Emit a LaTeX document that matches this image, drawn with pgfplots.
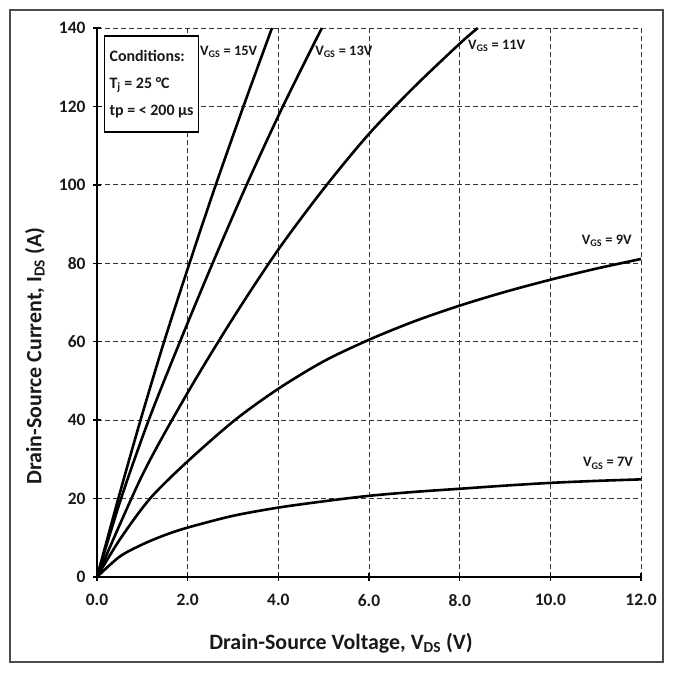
\documentclass[border=0pt]{standalone}
\usepackage{fontspec}
\setmainfont{Carlito}
\usepackage{pgfplots}
\pgfplotsset{compat=1.18}
\begin{document}
\begin{tikzpicture}
\useasboundingbox (0,0) rectangle (675bp,675bp);
\draw[black!70, line width=1.6bp] (10bp,13bp) rectangle (663bp,665bp);
\node[font=\bfseries\fontsize{22}{22}\selectfont, text=black!90] at (341bp,32bp) {Drain-Source Voltage, V\textsubscript{DS} (V)};
\node[font=\bfseries\fontsize{22}{22}\selectfont, text=black!90, rotate=90] at (35bp,319bp) {Drain-Source Current, I\textsubscript{DS} (A)};
\begin{axis}[
  at={(97bp,98bp)}, anchor=south west,
  scale only axis, width=544bp, height=549bp,
  xmin=0, xmax=12, ymin=0, ymax=140,
  xtick={0,2,...,12}, ytick={0,20,...,140},
  axis x line=bottom, axis y line=left,
  axis line style={-, line width=2.6bp},
  tick align=center, major tick length=8bp,
  tick style={black, line width=1.5bp},
  grid=major,
  major grid style={black!80, line width=0.9bp, dash pattern=on 5bp off 3bp},
  /pgf/number format/assume math mode=true,
  xticklabel={\pgfmathprintnumber[fixed,fixed zerofill,precision=1]{\tick}},
  ticklabel style={font=\bfseries\fontsize{17.5}{17.5}\selectfont, text=black!90},
  xticklabel style={yshift=-10bp},
  yticklabel style={xshift=-4bp},
  clip=true,
]
\addplot[black, line width=2.6bp, smooth] coordinates {(0,0) (0.47,20) (0.96,40) (1.48,60) (2.04,80) (2.62,100) (3.23,120) (3.86,140)};
\addplot[black, line width=2.6bp, smooth] coordinates {(0,0) (0.53,20) (1.14,40) (1.83,60) (2.55,80) (3.30,100) (4.10,120) (4.96,140)};
\addplot[black, line width=2.6bp, smooth] coordinates {(0,0) (1,26) (2,47) (3,66) (4,83.5) (5,99) (6,113) (7,125) (8,136) (8.4,140)};
\addplot[black, line width=2.6bp, smooth] coordinates {(0,0) (0.5,9.5) (1.17,20) (2,29.5) (3.04,40) (4,48) (5,55) (6,60.5) (7,65.2) (8,69.2) (9,72.7) (10,75.8) (11,78.6) (12,81.1)};
\addplot[black, line width=2.6bp, smooth] coordinates {(0,0) (0.5,5.2) (1,8.3) (1.5,10.7) (2,12.6) (3,15.6) (4,17.7) (5,19.3) (6,20.7) (7,21.7) (8,22.5) (9,23.3) (10,24.0) (11,24.5) (12,24.9)};
\node[draw=black, line width=1.6bp, fill=white, anchor=north west, align=left, inner sep=5bp,
  minimum width=93bp, minimum height=96bp, font=\bfseries\fontsize{16}{27}\selectfont, text=black!90]
  at (axis cs:0.15,138.2) {Conditions:\\T\textsubscript{j} = 25 °C\\tp = < 200 µs};
\tikzset{lab/.style={anchor=west, font=\bfseries\fontsize{14.5}{14.5}\selectfont, text=black!90, inner sep=0pt}}
\node[lab] at (axis cs:2.27,134) {V\textsubscript{GS} = 15V};
\node[lab] at (axis cs:4.81,134) {V\textsubscript{GS} = 13V};
\node[lab] at (axis cs:8.18,135.4) {V\textsubscript{GS} = 11V};
\node[lab] at (axis cs:10.69,85.8) {V\textsubscript{GS} = 9V};
\node[lab] at (axis cs:10.72,29) {V\textsubscript{GS} = 7V};
\end{axis}
\end{tikzpicture}
\end{document}
